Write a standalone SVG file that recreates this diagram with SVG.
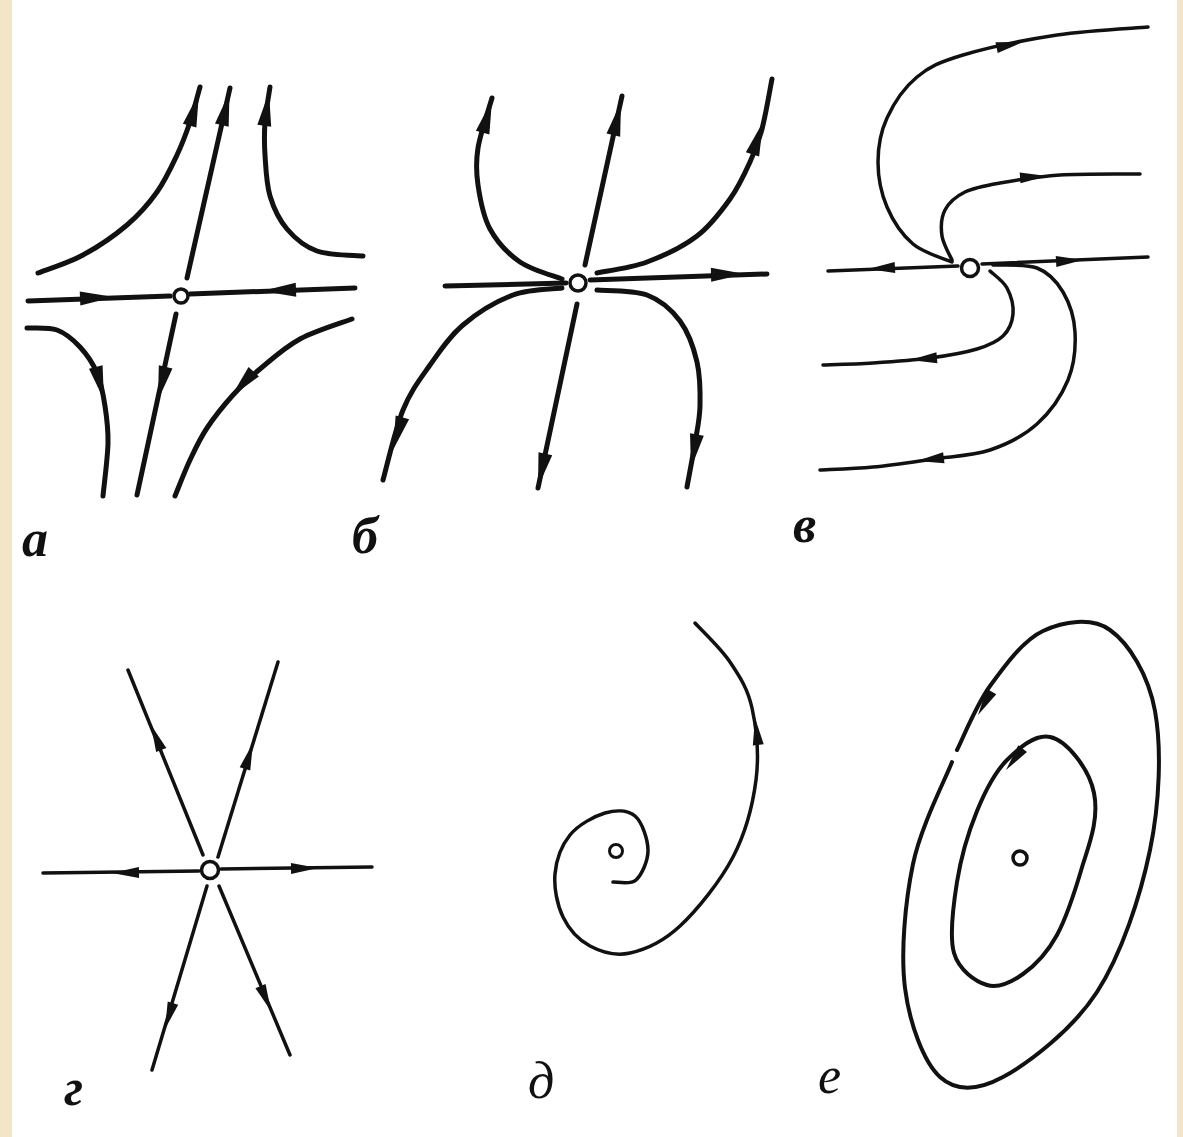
<svg xmlns="http://www.w3.org/2000/svg" xmlns:xlink="http://www.w3.org/1999/xlink" width="1183" height="1137" viewBox="0 0 1183 1137">
<style>
.ln{fill:none;stroke:#111;stroke-linecap:round;stroke-linejoin:round}
.w5{stroke-width:5}
.w4{stroke-width:4}
.w3{stroke-width:3.5}
.nd{fill:#fff;stroke:#111;stroke-width:3.5}
.ah{fill:#111}
.lb{font-family:"Liberation Serif","DejaVu Serif",serif;font-style:italic;font-size:52px;fill:#111}
.b{font-weight:bold}
</style>
<defs>
<path id="ahL" class="ah" d="M0,0 L-34,-7 L-34,7 Z"/>
<path id="ahS" class="ah" d="M0,0 L-27,-5.5 L-27,5.5 Z"/>
</defs>
<rect x="0" y="0" width="1183" height="1137" fill="#ffffff"/>
<rect x="0" y="0" width="12" height="1137" fill="#f3e5c8"/>
<rect x="1177" y="0" width="6" height="1137" fill="#f3e5c8"/>

<!-- Panel a: saddle -->
<g id="panel-a">
<g id="connectors-a">
<path class="ln w5" d="M28,301 L170,296"/>
<path class="ln w5" d="M190,294 L355,288"/>
<path class="ln w5" d="M187,278 L230,88"/>
<path class="ln w5" d="M176,314 L137,495"/>
<path class="ln w5" d="M38,273 C45.5,270 68.2,263 83,255 C97.8,247 114.7,235.5 127,225 C139.3,214.5 148.7,203.7 157,192 C165.3,180.3 171.5,166.7 177,155 C182.5,143.3 186.2,133.3 190,122 C193.8,110.7 198.3,92.8 200,87"/>
<path class="ln w5" d="M363,256 C355.3,255.2 329.7,255.5 317,251 C304.3,246.5 294.8,238.2 287,229 C279.2,219.8 273.7,208.3 270,196 C266.3,183.7 265.8,167.3 265,155 C264.2,142.7 264.2,133.3 265,122 C265.8,110.7 269.2,92.8 270,87"/>
<path class="ln w5" d="M27,328 C32,328.3 48.2,326.8 57,330 C65.8,333.2 73.3,339.8 80,347 C86.7,354.2 92.8,363.2 97,373 C101.2,382.8 103.2,394.3 105,406 C106.8,417.7 108.3,428 108,443 C107.7,458 103.8,487.2 103,496"/>
<path class="ln w5" d="M352,319 C343.3,322.3 315.3,330.7 300,339 C284.7,347.3 271.2,359.7 260,369 C248.8,378.3 241.8,385.2 233,395 C224.2,404.8 214.2,417.2 207,428 C199.8,438.8 195.3,448.7 190,460 C184.7,471.3 177.5,490 175,496"/>
<use xlink:href="#ahL" transform="translate(114,297) rotate(-2.5)"/>
<use xlink:href="#ahL" transform="translate(262,291) rotate(178)"/>
<use xlink:href="#ahL" transform="translate(229.5,92) rotate(-77)"/>
<use xlink:href="#ahL" transform="translate(158,400) rotate(103)"/>
<use xlink:href="#ahL" transform="translate(199,93) rotate(-74)"/>
<use xlink:href="#ahL" transform="translate(269,92) rotate(-82)"/>
<use xlink:href="#ahL" transform="translate(104,400) rotate(76)"/>
<use xlink:href="#ahL" transform="translate(231,397) rotate(132)"/>
</g>
<g id="node-a"><circle class="nd" cx="181" cy="296" r="7"/></g>
<text class="lb b" x="22" y="556">а</text>
</g>

<!-- Panel б: node -->
<g id="panel-b">
<g id="connectors-b">
<path class="ln w5" d="M445,286 L566,283"/>
<path class="ln w5" d="M590,280 L767,274"/>
<path class="ln w5" d="M585,265 L622,96"/>
<path class="ln w5" d="M577,304 L538,488"/>
<path class="ln w5" d="M562,279 C555,276.2 532,270.3 520,262 C508,253.7 497,241.8 490,229 C483,216.2 480,198.5 478,185 C476,171.5 475.7,162.5 478,148 C480.3,133.5 489.7,106.3 492,98"/>
<path class="ln w5" d="M597,273 C605.3,271.2 630.3,268.2 647,262 C663.7,255.8 683.2,246.5 697,236 C710.8,225.5 721.2,211.3 730,199 C738.8,186.7 744.7,173.7 750,162 C755.3,150.3 758.3,142.8 762,129 C765.7,115.2 770.3,87.3 772,79"/>
<path class="ln w5" d="M562,288 C553.8,289.2 529.5,288.8 513,295 C496.5,301.2 476.8,313.3 463,325 C449.2,336.7 440,350.8 430,365 C420,379.2 410.8,390.8 403,410 C395.2,429.2 386.3,468.3 383,480"/>
<path class="ln w5" d="M597,290 C605.3,290.8 633.2,289.8 647,295 C660.8,300.2 671.7,309.8 680,321 C688.3,332.2 693.7,347.8 697,362 C700.3,376.2 700.3,392.5 700,406 C699.7,419.5 697.2,429.5 695,443 C692.8,456.5 688.3,479.7 687,487"/>
<use xlink:href="#ahL" transform="translate(745,274) rotate(-1.3)"/>
<use xlink:href="#ahL" transform="translate(621,102) rotate(-77)"/>
<use xlink:href="#ahL" transform="translate(538,487) rotate(102.5)"/>
<use xlink:href="#ahL" transform="translate(492,100) rotate(-74)"/>
<use xlink:href="#ahL" transform="translate(763,122) rotate(-72)"/>
<use xlink:href="#ahL" transform="translate(393,450) rotate(106)"/>
<use xlink:href="#ahL" transform="translate(691,468) rotate(100)"/>
</g>
<g id="node-b"><circle class="nd" cx="578" cy="283" r="8"/></g>
<text class="lb b" x="352" y="553">б</text>
</g>

<!-- Panel в: degenerate node -->
<g id="panel-v">
<g id="connectors-v">
<path class="ln w3" d="M828,271 L958,266"/>
<path class="ln w3" d="M982,264 L1148,257"/>
<path class="ln w3" d="M952,262 C945.5,259 923.8,253.2 913,244 C902.2,234.8 892.8,220.7 887,207 C881.2,193.3 878,176.8 878,162 C878,147.2 880.5,132.2 887,118 C893.5,103.8 904.3,87.5 917,77 C929.7,66.5 939.7,62 963,55 C986.3,48 1026.2,39.7 1057,35 C1087.8,30.3 1132.8,28.3 1148,27"/>
<path class="ln w3" d="M952,260 C950.3,256 943.2,244.3 942,236 C940.8,227.7 941.2,217.3 945,210 C948.8,202.7 955.8,196.5 965,192 C974.2,187.5 984.2,185.8 1000,183 C1015.8,180.2 1036.7,176.5 1060,175 C1083.3,173.5 1126.7,174.2 1140,174"/>
<path class="ln w3" d="M990,271 C992.8,273.8 1003.2,280.8 1007,288 C1010.8,295.2 1013.7,306 1013,314 C1012.3,322 1009,330.2 1003,336 C997,341.8 989.2,345.3 977,349 C964.8,352.7 947.3,355.7 930,358 C912.7,360.3 890.8,361.8 873,363 C855.2,364.2 831.3,364.7 823,365"/>
<path class="ln w3" d="M993,265 C1000.3,265.5 1025.3,263.5 1037,268 C1048.7,272.5 1056.7,281.3 1063,292 C1069.3,302.7 1074.2,317.3 1075,332 C1075.8,346.7 1074.3,364.7 1068,380 C1061.7,395.3 1050,412.3 1037,424 C1024,435.7 1007.3,444.2 990,450 C972.7,455.8 952.5,456.2 933,459 C913.5,461.8 891.8,465.2 873,467 C854.2,468.8 828.8,469.5 820,470"/>
<use xlink:href="#ahS" transform="translate(868,269) rotate(177)"/>
<use xlink:href="#ahS" transform="translate(1083,260) rotate(-3)"/>
<use xlink:href="#ahS" transform="translate(1023,42) rotate(-12)"/>
<use xlink:href="#ahS" transform="translate(1047,176) rotate(-4)"/>
<use xlink:href="#ahS" transform="translate(910,360) rotate(175)"/>
<use xlink:href="#ahS" transform="translate(917,461) rotate(173)"/>
</g>
<g id="node-v"><circle class="nd" cx="970" cy="268" r="8.5"/></g>
<text class="lb b" x="793" y="542">в</text>
</g>

<!-- Panel г: star node -->
<g id="panel-g">
<g id="connectors-g">
<path class="ln w3" d="M43,873 L199,871"/>
<path class="ln w3" d="M221,869 L372,867"/>
<path class="ln w3" d="M203,855 L128,670"/>
<path class="ln w3" d="M218,857 L278,662"/>
<path class="ln w3" d="M207,886 L152,1070"/>
<path class="ln w3" d="M219,886 L290,1055"/>
<use xlink:href="#ahS" transform="translate(112,873) rotate(179)"/>
<use xlink:href="#ahS" transform="translate(318,868) rotate(-1)"/>
<use xlink:href="#ahS" transform="translate(151,725) rotate(-112.3)"/>
<use xlink:href="#ahS" transform="translate(253,743) rotate(-72.7)"/>
<use xlink:href="#ahS" transform="translate(165,1029) rotate(107.2)"/>
<use xlink:href="#ahS" transform="translate(271,1011) rotate(67.1)"/>
</g>
<g id="node-g"><circle class="nd" cx="210" cy="870" r="8.5"/></g>
<text class="lb b" x="64" y="1105">г</text>
</g>

<!-- Panel д: focus -->
<g id="panel-d">
<g id="connectors-d">
<path class="ln w3" d="M613,882 C616.8,881.7 630.2,885.3 636,880 C641.8,874.7 648.2,860.7 648,850 C647.8,839.3 642.2,822.2 635,816 C627.8,809.8 615.8,809.8 605,813 C594.2,816.2 578.3,824.8 570,835 C561.7,845.2 556.2,860.3 555,874 C553.8,887.7 557.2,905 563,917 C568.8,929 578.8,940 590,946 C601.2,952 615,956.3 630,953 C645,949.7 662.8,942 680,926 C697.2,910 720.3,881.3 733,857 C745.7,832.7 752.8,804.8 756,780 C759.2,755.2 756.3,727.7 752,708 C747.7,688.3 739.5,676.2 730,662 C720.5,647.8 700.8,629.5 695,623"/>
<use xlink:href="#ahS" transform="translate(755,718) rotate(-97)"/>
</g>
<g id="node-d"><circle class="nd" cx="616" cy="851" r="6.5" style="stroke-width:3"/></g>
<text class="lb" x="528" y="1098">д</text>
</g>

<!-- Panel е: centre -->
<g id="panel-e">
<g id="connectors-e">
<path class="ln w4" d="M1050,737 C1066,740 1089,768 1094,793 C1099,818 1090,842 1083,864 C1076,888 1067,916.7 1057,935 C1047,953.3 1034.7,965.7 1023,974 C1011.3,982.3 998.5,988.5 987,985 C975.5,981.5 959,970.2 954,953 C949,935.8 953.2,905.7 957,882 C960.8,858.3 968.7,831.3 977,811 C985.3,790.7 994.8,772.3 1007,760 C1019.2,747.7 1035,734 1050,737 Z"/>
<path class="ln w4" d="M952,762 C945.5,779 920.8,826.3 913,864 C905.2,901.7 900.5,952.5 905,988 C909.5,1023.5 923.7,1062.2 940,1077 C956.3,1091.8 976.8,1091.2 1003,1077 C1029.2,1062.8 1072.5,1029.8 1097,992 C1121.5,954.2 1140.3,896.8 1150,850 C1159.7,803.2 1161.7,747.7 1155,711 C1148.3,674.3 1128.7,643.3 1110,630 C1091.3,616.7 1063,621.7 1043,631 C1023,640.3 1004.3,666.2 990,686 C975.7,705.8 962.5,739.3 957,750"/>
<use xlink:href="#ahS" transform="translate(1006,770) rotate(128)"/>
<use xlink:href="#ahS" transform="translate(978,715) rotate(120)"/>
</g>
<g id="node-e"><circle class="nd" cx="1020" cy="858" r="7"/></g>
<text class="lb" x="818" y="1093">е</text>
</g>
</svg>
